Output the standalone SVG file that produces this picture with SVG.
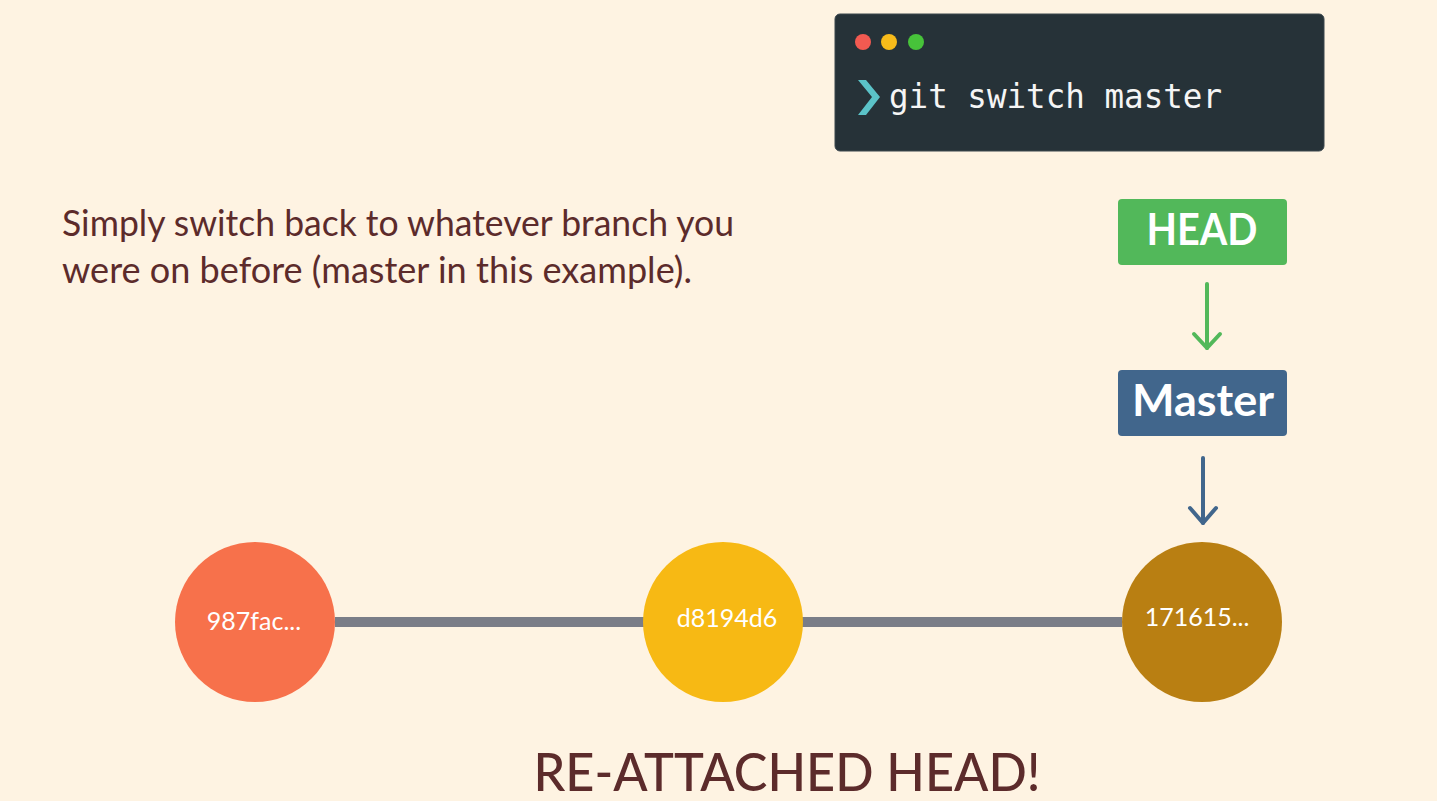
<svg xmlns="http://www.w3.org/2000/svg" width="1437" height="801" viewBox="0 0 1437 801">
<defs>
<style>
.cap{font-family:Lato,"Noto Sans",sans-serif;fill:#5c2b2b}
.hash{font-family:Lato,"Noto Sans",sans-serif;fill:#ffffff;font-size:25px;text-anchor:middle}
.lbl{font-family:Lato,"Noto Sans",sans-serif;fill:#ffffff;font-weight:bold;text-anchor:middle}
.arrow{fill:none;stroke-width:4;stroke-linecap:round;stroke-linejoin:round}
</style>
</defs>
<rect width="1437" height="801" fill="#fef3e2"/>
<g id="terminal">
<rect x="835" y="14" width="489" height="137" rx="5" fill="#263238" stroke="#3a464d" stroke-width="1"/>
<circle cx="863" cy="42" r="8" fill="#f25a51"/>
<circle cx="889" cy="42" r="8" fill="#f7bb1a"/>
<circle cx="916" cy="42" r="8" fill="#47c33a"/>
<polygon points="858,80 866,80 880,97 866,115 858,115 872,97" fill="#5bc3c8"/>
<text x="889" y="108" font-family="'DejaVu Sans Mono','Liberation Mono',monospace" font-size="33" fill="#f5f5f5" textLength="333" lengthAdjust="spacingAndGlyphs">git switch master</text>
</g>
<g id="description">
<text class="cap" x="62" y="236" font-size="36" textLength="672" lengthAdjust="spacingAndGlyphs">Simply switch back to whatever branch you</text>
<text class="cap" x="62" y="283" font-size="36" textLength="630" lengthAdjust="spacingAndGlyphs">were on before (master in this example).</text>
</g>
<g id="connectors">
<line x1="335" y1="622" x2="1122" y2="622" stroke="#7a7d87" stroke-width="10"/>
<g class="arrow" stroke="#52b85a">
<line x1="1207" y1="284" x2="1207" y2="348"/>
<polyline points="1194,334 1207,348 1220,334"/>
</g>
<g class="arrow" stroke="#41668c">
<line x1="1203" y1="458" x2="1203" y2="523"/>
<polyline points="1190,508 1203,523 1216,508"/>
</g>
</g>
<g id="head">
<rect x="1118" y="199" width="169" height="66" rx="4" fill="#52b85a"/>
<text class="lbl" x="1202" y="245" font-size="43" textLength="111" lengthAdjust="spacingAndGlyphs">HEAD</text>
</g>
<g id="master">
<rect x="1118" y="370" width="169" height="66" rx="4" fill="#41668c"/>
<text class="lbl" x="1203" y="416" font-size="43" textLength="142" lengthAdjust="spacingAndGlyphs">Master</text>
</g>
<g id="commit1">
<circle cx="255" cy="622" r="80" fill="#f7714b"/>
<text class="hash" x="254" y="630">987fac...</text>
</g>
<g id="commit2">
<circle cx="723" cy="622" r="80" fill="#f7b914"/>
<text class="hash" x="727" y="627">d8194d6</text>
</g>
<g id="commit3">
<circle cx="1202" cy="622" r="80" fill="#b97f12"/>
<text class="hash" x="1197" y="626">171615...</text>
</g>
<g id="title">
<text class="cap" x="787" y="791" font-size="53" font-weight="500" text-anchor="middle" textLength="507" lengthAdjust="spacingAndGlyphs">RE-ATTACHED HEAD!</text>
</g>
</svg>
